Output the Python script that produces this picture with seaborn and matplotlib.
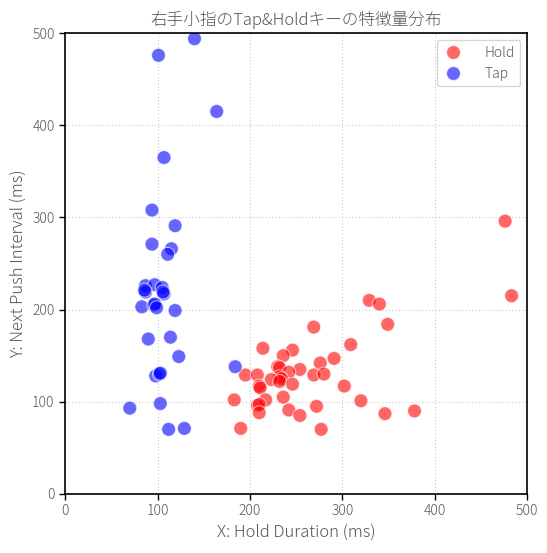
import matplotlib
matplotlib.use("Agg")
import matplotlib.pyplot as plt
import seaborn as sns
import pandas as pd

hold_x = [329, 340, 349, 269, 309, 214, 246, 236, 291, 276, 230, 232, 254, 242, 195, 208, 269, 280,
          232, 234, 223, 232, 246, 210, 211, 302, 236, 183, 217, 320, 208, 210, 210, 242, 272, 254,
          346, 378, 190, 277, 476, 483]
hold_y = [210, 206, 184, 181, 162, 158, 156, 150, 147, 142, 138, 137, 135, 132, 129, 129, 129, 130,
          127, 125, 124, 122, 119, 117, 115, 117, 105, 102, 102, 101, 96, 97, 88, 91, 95, 85,
          87, 90, 71, 70, 296, 215]
tap_x = [140, 101, 164, 107, 94, 119, 94, 115, 111, 87, 97, 105, 87, 86, 107, 106, 83, 96, 97, 99,
         119, 90, 114, 123, 184, 98, 102, 103, 70, 103, 112, 129]
tap_y = [494, 476, 415, 365, 308, 291, 271, 266, 260, 226, 227, 224, 219, 221, 217, 219, 203, 205, 206, 202,
         199, 168, 170, 149, 138, 128, 130, 131, 93, 98, 70, 71]

labels = ["Hold"] * len(hold_x) + ["Tap"] * len(tap_x)
df = pd.DataFrame({"x": hold_x + tap_x, "y": hold_y + tap_y, "label": labels})

sns.set_theme(style="white")
plt.rcParams['font.family'] = ['Noto Sans CJK JP', 'DejaVu Sans']
plt.rcParams['font.weight'] = 'light'
text_col = '#555555'

fig = plt.figure(figsize=(5.47, 5.53), dpi=100)
ax = fig.add_axes([0.119, 0.107, 0.845, 0.833])
sns.scatterplot(data=df, x="x", y="y", hue="label", palette={"Hold": "red", "Tap": "blue"},
                alpha=0.6, s=100, edgecolor="white", linewidth=0.8, ax=ax)
ax.set_xlim(0, 500)
ax.set_ylim(0, 500)
ax.set_xticks([0, 100, 200, 300, 400, 500])
ax.set_yticks([0, 100, 200, 300, 400, 500])
ax.grid(True, linestyle=(0, (1, 2)), color='#cccccc', linewidth=0.8)
for s in ax.spines.values():
    s.set_color('black')
    s.set_linewidth(1.2)
ax.tick_params(axis='both', colors='black', labelcolor=text_col, labelsize=10, length=4, width=1, direction='out',
               bottom=True, left=True)
ax.set_title("右手小指のTap&Holdキーの特徴量分布", color=text_col, fontsize=12, fontweight='light')
ax.set_xlabel("X: Hold Duration (ms)", color=text_col, fontsize=12, fontweight='light')
ax.set_ylabel("Y: Next Push Interval (ms)", color=text_col, fontsize=12, fontweight='light')
leg = ax.legend(loc='upper right', frameon=True, fontsize=10, handletextpad=1.5, handlelength=1.5)
leg.set_title(None)
for t in leg.get_texts():
    t.set_color(text_col)
fig.savefig("out.png", dpi=100)
